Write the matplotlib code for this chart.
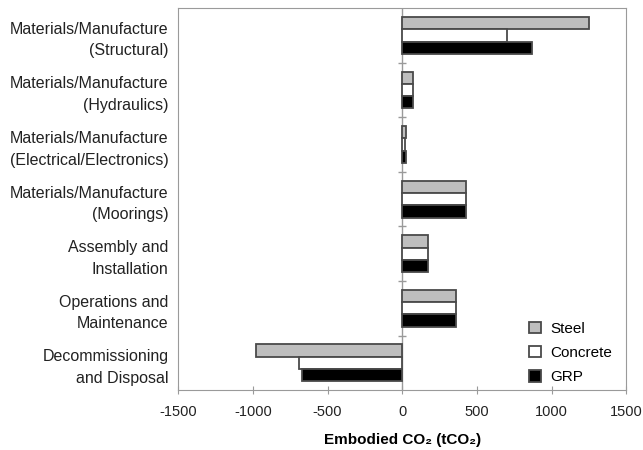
import numpy as np
import matplotlib
matplotlib.use('Agg')
import matplotlib.pyplot as plt

plt.rcParams['font.family'] = ['Liberation Sans', 'DejaVu Sans']
plt.rcParams['axes.unicode_minus'] = False

# Life-cycle stages (top to bottom)
stages = ['Materials/Manufacture\n(Structural)',
          'Materials/Manufacture\n(Hydraulics)',
          'Materials/Manufacture\n(Electrical/Electronics)',
          'Materials/Manufacture\n(Moorings)',
          'Assembly and\nInstallation',
          'Operations and\nMaintenance',
          'Decommissioning\nand Disposal']

# Embodied CO2 (tCO2) per material
steel = [1250, 75, 25, 430, 170, 360, -980]
concrete = [700, 75, 20, 430, 170, 360, -690]
grp = [870, 75, 25, 430, 170, 360, -670]

series = [('Steel', steel, '#bebebe'),
          ('Concrete', concrete, 'white'),
          ('GRP', grp, 'black')]

fig = plt.figure(figsize=(6.43, 4.5), dpi=100)
ax = fig.add_axes([0.277, 0.133, 0.697, 0.849])

y = np.arange(len(stages))
h = 0.225
for i, (name, vals, col) in enumerate(series):
    ax.barh(y + (i - 1) * h, vals, height=h, color=col,
            edgecolor='#4a4a4a', linewidth=1.3, label=name)

# zero line with group separator ticks
ax.axvline(0, color='#9a9a9a', linewidth=1, zorder=0)
ax.plot(np.zeros(len(stages) - 1), y[:-1] + 0.5, linestyle='none',
        marker='_', markersize=6, color='#9a9a9a', zorder=0)

ax.set_xlim(-1500, 1500)
ax.set_ylim(len(stages) - 0.5, -0.5)
ax.set_xticks([-1500, -1000, -500, 0, 500, 1000, 1500])
ax.set_yticks(y)
ax.set_yticklabels(stages, fontsize=11.5, color='#222222', linespacing=1.55)
ax.tick_params(axis='y', length=0, pad=7)
ax.tick_params(axis='x', direction='inout', length=6, color='#9a9a9a',
               labelsize=10.5, labelcolor='#222222', pad=8)
for s in ax.spines.values():
    s.set_color('#9a9a9a')

ax.set_xlabel('Embodied CO\u2082 (tCO\u2082)', fontsize=11, fontweight='bold',
              labelpad=10)

ax.legend(loc='lower right', frameon=False, fontsize=11, handlelength=0.8,
          handleheight=0.8, handletextpad=0.6, labelspacing=0.65,
          bbox_to_anchor=(1.0, -0.02))

plt.savefig('out.png', dpi=100)
